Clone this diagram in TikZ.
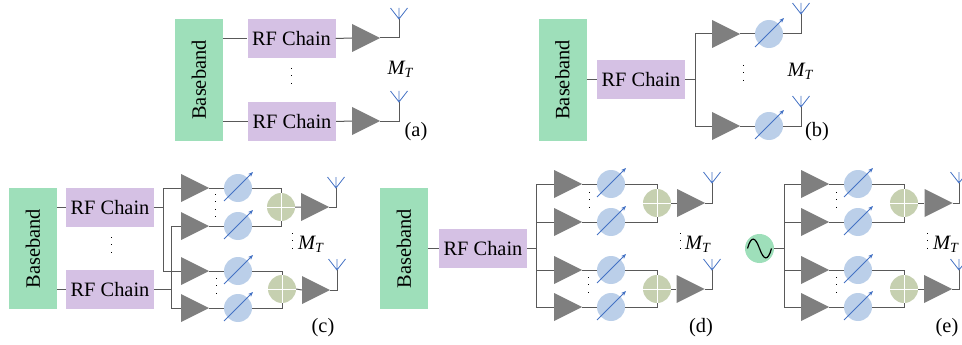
\documentclass[tikz,border=0pt]{standalone}
\usepackage{fontspec}
\setmainfont{Liberation Serif}
\usetikzlibrary{arrows.meta}
\definecolor{bbgreen}{HTML}{9EDFBA}
\definecolor{rfpurple}{HTML}{D5C1E4}
\definecolor{psblue}{HTML}{BBCFE9}
\definecolor{arblue}{HTML}{4472C4}
\definecolor{ampgray}{HTML}{7F7F7F}
\definecolor{wiregray}{HTML}{595959}
\definecolor{comboliv}{HTML}{C6D0B0}
\tikzset{
  bbnode/.style={fill=bbgreen,inner sep=0pt,minimum width=122pt,minimum height=48pt,rotate=90,font=\fontsize{20.4}{20}\selectfont},
  rfnode/.style={fill=rfpurple,inner sep=0pt,minimum width=88pt,minimum height=39pt,font=\fontsize{20.4}{20}\selectfont},
  ampnode/.style={inner sep=0pt,minimum size=28pt,path picture={\fill[ampgray] (path picture bounding box.north west) -- (path picture bounding box.south west) -- (path picture bounding box.east) -- cycle;}},
  psnode/.style={circle,fill=psblue,inner sep=0pt,minimum size=28pt},
  combnode/.style={circle,fill=comboliv,inner sep=0pt,minimum size=28pt,path picture={\draw[white,line width=.8pt] (path picture bounding box.north) -- (path picture bounding box.south) (path picture bounding box.west) -- (path picture bounding box.east);}},
  wire/.style={draw=wiregray,line width=1pt},
  antline/.style={draw=arblue,line width=.8pt},
  psarrow/.style={draw=arblue,line width=.8pt,-{Stealth[length=5pt,width=4pt]}},
  dotline/.style={draw=black,line width=.8pt,dash pattern=on .8pt off 6.6pt},
  lbl/.style={inner sep=0pt,font=\fontsize{20.4}{20}\selectfont},
}
\newcommand{\ampat}[3]{\node[ampnode] (#1) at (#2,#3) {};}
\newcommand{\psat}[3]{\node[psnode] (#1) at (#2,#3) {};
  \draw[psarrow] ([shift={(-14,13)}]#1.center) -- ([shift={(15,-16)}]#1.center);}
\newcommand{\antat}[3]{\coordinate (#1) at (#2,#3);
  \coordinate (#1t) at (#2,#3-11);
  \coordinate (#1l) at (#2-8.5,#3-11);
  \coordinate (#1r) at (#2+8.5,#3-11);
  \draw[antline] (#1) -- (#1t) (#1l) -- (#1) -- (#1r);}
\newcommand{\mtlabel}[3]{\node[lbl] (#1) at (#2,#3) {\textit{M}\kern-1pt\raisebox{-3pt}{\fontsize{14}{14}\selectfont\textit{T}}};}
\newcommand{\vdotsat}[3]{\draw[dotline] (#1,#2) -- (#1,#3);}
\begin{document}
\begin{tikzpicture}[x=1pt,y=-1pt]
\path[clip,use as bounding box] (0,0) rectangle (962,345);
% ---------- (a)
\node[bbnode] (Aa) at (199,80) {Baseband};
\node[rfnode] (Ar1) at (291.5,38.5) {RF Chain};
\node[rfnode] (Ar2) at (292,121.5) {RF Chain};
\ampat{Ap1}{366}{38}
\ampat{Ap2}{366}{121}
\antat{Aant1}{399}{19}
\antat{Aant2}{399}{102}
\draw[wire] (Aa.south |- Ar1.west) -- (Ar1.west);
\draw[wire] (Aa.south |- Ar2.west) -- (Ar2.west);
\draw[wire] (Ar1.east) -- (Ap1.west) (Ar2.east) -- (Ap2.west);
\draw[wire] (Ap1.east) -| (Aant1);
\draw[wire] (Ap2.east) -| (Aant2);
\vdotsat{291}{68}{90}
\mtlabel{Am}{400.5}{69}
\node[lbl] (Al) at (416,132) {(a)};
% ---------- (b)
\node[bbnode] (Ba) at (562.5,80) {Baseband};
\node[rfnode] (Br) at (641,80) {RF Chain};
\coordinate (Bj) at (695,80);
\ampat{Bp1}{726}{34}
\ampat{Bp2}{726}{126}
\psat{Bs1}{769}{34}
\psat{Bs2}{769}{126}
\antat{Bant1}{801}{14}
\antat{Bant2}{801}{107}
\draw[wire] (Ba.south |- Br.west) -- (Br.west);
\draw[wire] (Br.east) -- (Bj);
\draw[wire] (Bp1.west) -| (Bj);
\draw[wire] (Bp2.west) -| (Bj);
\draw[wire] (Bp1.east) -- (Bs1.west) (Bp2.east) -- (Bs2.west);
\draw[wire] (Bs1.east) -| (Bant1);
\draw[wire] (Bs2.east) -| (Bant2);
\vdotsat{743}{65}{87}
\mtlabel{Bm}{800.5}{71}
\node[lbl] (Bl) at (817,132) {(b)};
% ---------- (c)
\node[bbnode,minimum width=121pt] (Ca) at (33,248.5) {Baseband};
\node[rfnode] (Cr1) at (110,207.5) {RF Chain};
\node[rfnode] (Cr2) at (110,289.5) {RF Chain};
\coordinate (Cj1) at (163,207.5);
\coordinate (Cj2) at (171,289.5);
\foreach \n/\yy in {1/188,2/226,3/271,4/308}{
  \ampat{Cp\n}{195}{\yy}
  \psat{Cs\n}{238}{\yy}
  \draw[wire] (Cp\n.east) -- (Cs\n.west);
}
\node[combnode] (Cc1) at (281,207) {};
\node[combnode] (Cc2) at (282,289) {};
\ampat{Co1}{315}{207}
\ampat{Co2}{316}{290}
\antat{Cant1}{336}{188}
\antat{Cant2}{337}{270}
\draw[wire] (Ca.south |- Cr1.west) -- (Cr1.west);
\draw[wire] (Ca.south |- Cr2.west) -- (Cr2.west);
\draw[wire] (Cr1.east) -- (Cj1);
\draw[wire] (Cr2.east) -- (Cj2);
\draw[wire] (Cp1.west) -| (Cj1);
\draw[wire] (Cp3.west) -| (Cj1);
\draw[wire] (Cp2.west) -| (Cj2);
\draw[wire] (Cp4.west) -| (Cj2);
\draw[wire] (Cs1.east) -| (Cc1.north);
\draw[wire] (Cs2.east) -| (Cc1.south);
\draw[wire] (Cs3.east) -| (Cc2.north);
\draw[wire] (Cs4.east) -| (Cc2.south);
\draw[wire] (Cc1.east) -- (Co1.west) (Cc2.east) -- (Co2.west);
\draw[wire] (Co1.east) -| (Cant1);
\draw[wire] (Co2.east) -| (Cant2);
\vdotsat{111}{237}{259}
\vdotsat{215}{194}{217}
\vdotsat{216}{278}{300}
\vdotsat{292}{233}{255}
\mtlabel{Cm}{311}{244}
\node[lbl] (Cl) at (323,328) {(c)};
% ---------- (d)
\node[bbnode,minimum width=121pt] (Da) at (404,248.5) {Baseband};
\node[rfnode] (Dr) at (483,248.5) {RF Chain};
\coordinate (Dj) at (536,248.5);
\foreach \n/\yy in {1/184,2/222,3/270,4/307}{
  \ampat{Dp\n}{568}{\yy}
  \psat{Ds\n}{611}{\yy}
  \draw[wire] (Dp\n.east) -- (Ds\n.west);
  \draw[wire] (Dp\n.west) -| (Dj);
}
\node[combnode] (Dc1) at (657,203) {};
\node[combnode] (Dc2) at (657,289) {};
\ampat{Do1}{691}{203}
\ampat{Do2}{690.5}{289}
\antat{Dant1}{712}{183}
\antat{Dant2}{712}{270}
\draw[wire] (Da.south |- Dr.west) -- (Dr.west);
\draw[wire] (Dr.east) -- (Dj);
\draw[wire] (Ds1.east) -| (Dc1.north);
\draw[wire] (Ds2.east) -| (Dc1.south);
\draw[wire] (Ds3.east) -| (Dc2.north);
\draw[wire] (Ds4.east) -| (Dc2.south);
\draw[wire] (Dc1.east) -- (Do1.west) (Dc2.east) -- (Do2.west);
\draw[wire] (Do1.east) -| (Dant1);
\draw[wire] (Do2.east) -| (Dant2);
\vdotsat{589}{192}{214}
\vdotsat{588}{277}{299}
\vdotsat{680}{233}{255}
\mtlabel{Dm}{698}{244}
\node[lbl] (Dl) at (701,328) {(d)};
% ---------- (e)
\node[circle,fill=bbgreen,inner sep=0pt,minimum size=29pt] (Eo) at (759.5,248.5) {};
\draw[black,line width=1.2pt] (747.5,248.5) .. controls (751,236) and (755,236) .. (759.5,248.5) .. controls (764,261) and (768,261) .. (771.5,248.5);
\coordinate (Ej) at (784,248.5);
\foreach \n/\yy in {1/184,2/222,3/270,4/307}{
  \ampat{Ep\n}{815}{\yy}
  \psat{Es\n}{858}{\yy}
  \draw[wire] (Ep\n.east) -- (Es\n.west);
  \draw[wire] (Ep\n.west) -| (Ej);
}
\node[combnode] (Ec1) at (904,203) {};
\node[combnode] (Ec2) at (904,289) {};
\ampat{Eo1}{938.5}{203}
\ampat{Eo2}{938}{289}
\antat{Eant1}{959}{183}
\antat{Eant2}{959}{270}
\draw[wire] (Eo.east) -- (Ej);
\draw[wire] (Es1.east) -| (Ec1.north);
\draw[wire] (Es2.east) -| (Ec1.south);
\draw[wire] (Es3.east) -| (Ec2.north);
\draw[wire] (Es4.east) -| (Ec2.south);
\draw[wire] (Ec1.east) -- (Eo1.west) (Ec2.east) -- (Eo2.west);
\draw[wire] (Eo1.east) -| (Eant1);
\draw[wire] (Eo2.east) -| (Eant2);
\vdotsat{836}{192}{214}
\vdotsat{836}{277}{299}
\vdotsat{927}{233}{255}
\mtlabel{Em}{946}{244}
\node[lbl] (El) at (947,328) {(e)};
\end{tikzpicture}
\end{document}
